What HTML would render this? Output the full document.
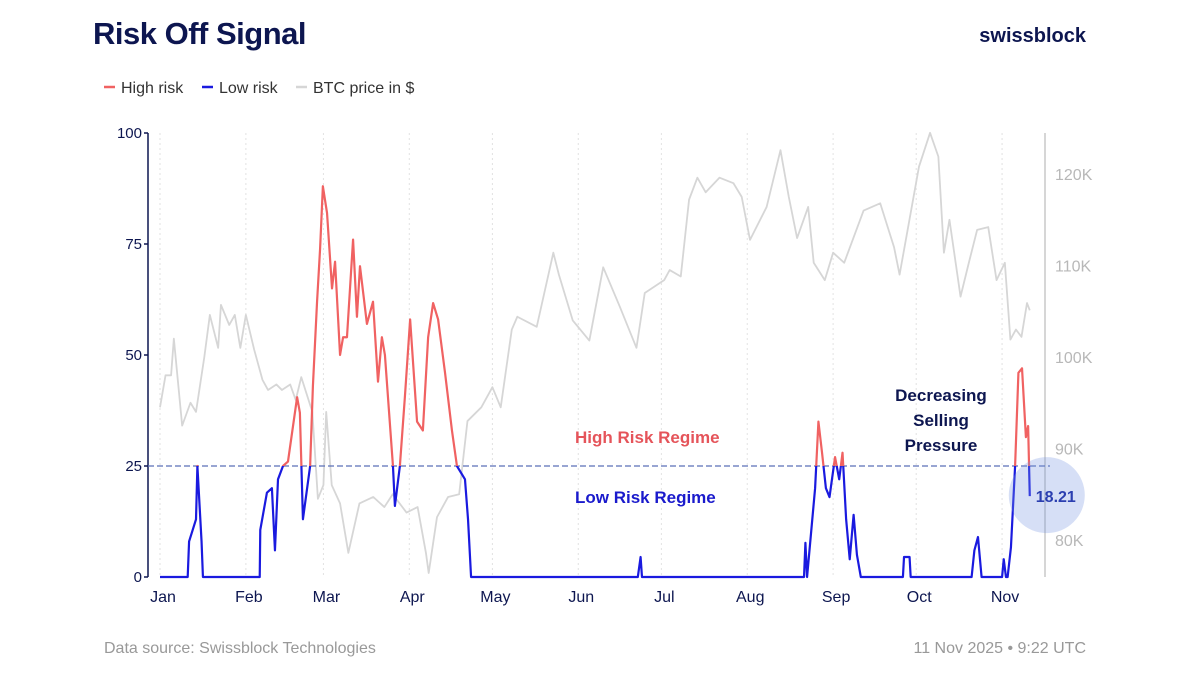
<!DOCTYPE html>
<html><head><meta charset="utf-8"><style>
body{margin:0;background:#fff;width:1200px;height:675px;overflow:hidden;font-family:"Liberation Sans",sans-serif}
</style></head><body>
<svg id="c" width="1200" height="675" xmlns="http://www.w3.org/2000/svg">
<text x="93" y="44" font-size="31" font-weight="bold" fill="#0d1650" letter-spacing="-0.5">Risk Off Signal</text>
<text x="1086" y="42" font-size="20" font-weight="bold" fill="#0d1650" text-anchor="end">swissblock</text>
<g font-size="16" fill="#333">
<g><line x1="104" y1="87" x2="115" y2="87" stroke="#f06262" stroke-width="2.5"/><text x="121" y="93">High risk</text></g>
<g><line x1="202" y1="87" x2="213" y2="87" stroke="#1a1adf" stroke-width="2.5"/><text x="219" y="93">Low risk</text></g>
<g><line x1="296" y1="87" x2="307" y2="87" stroke="#d6d6d6" stroke-width="2.5"/><text x="313" y="93">BTC price in $</text></g>
</g>
<g id="grid"></g>
<g id="axes"></g>
<g id="series"></g>
<text x="575" y="443" font-size="17" font-weight="bold" fill="#e5545a">High Risk Regime</text>
<text x="575" y="503" font-size="17" font-weight="bold" fill="#1a1acc">Low Risk Regime</text>
<g font-size="17" font-weight="bold" fill="#0d1650" text-anchor="middle">
<text x="941" y="401">Decreasing</text><text x="941" y="426">Selling</text><text x="941" y="451">Pressure</text></g>
<text x="104" y="653" font-size="16" fill="#999">Data source: Swissblock Technologies</text>
<text x="1086" y="653" font-size="16" fill="#999" text-anchor="end">11 Nov 2025 • 9:22 UTC</text>
</svg>
<script>
const months=["Jan","Feb","Mar","Apr","May","Jun","Jul","Aug","Sep","Oct","Nov"];
const monthDays=[0,31,59,90,120,151,181,212,243,273,304];
const leftTicks=[0,25,50,75,100];
const rightTicks=[80,90,100,110,120];
const rightTickLabels=["80K","90K","100K","110K","120K"];
const priceDays=[0,2,4,5,8,11,13,16,18,21,22,25,27,29,31,34,37,39,42,44,47,49,51,55,57,59,60,62,65,68,72,77,81,84,89,93,96,97,100,104,108,111,116,120,123,127,129,136,142,144,149,155,160,166,172,175,182,184,188,191,194,197,202,207,210,213,219,224,227,230,234,236,240,243,247,254,260,265,267,274,278,281,283,285,289,292,295,299,302,305,307,309,311,313,314];
const priceVals=[94.5,98,98,102,92.5,95,94,100,104.6,101,105.7,103.5,104.6,101,104.6,100.8,97.5,96.4,97,96.4,97,95.3,97.8,94,84.5,86,94,86,84,78.6,84,84.7,83.6,85,83,83.6,78.6,76.4,82.5,84.7,85,93,94.5,96.7,94.5,103,104.4,103.3,111.4,109,104,101.8,109.8,105.5,101,107,108.4,109.5,108.8,117.2,119.6,118,119.6,119,117.5,112.8,116.4,122.6,117.5,113,116.4,110.3,108.4,111.4,110.3,116,116.8,112,109,120.8,124.5,121.9,111.4,115,106.6,110.3,113.9,114.2,108.4,110.3,101.9,103,102.2,105.9,105.1];
const riskDays=[0,10,10.5,12,13,13.5,15,15.5,36,36.2,38.6,40.4,41.5,42.6,44.4,46.2,49.5,50.5,51.6,54.2,55.2,56.7,57.8,58.8,60.3,62.1,63.2,65,66.1,67.5,69.7,71.1,72.2,74.7,76.9,78.7,80.1,81.2,84.1,84.8,86.6,88.4,90.3,92.8,94.9,96.8,98.6,100.4,102.9,105.4,107.2,110.1,111.2,112.3,172.5,173.5,174,232.5,233,233.6,236.5,237.7,239,240.4,241.7,243.7,245.2,246.4,247.7,249,250.4,251.6,253,268.2,268.6,269.7,270.6,271,293,294,295.3,296.6,304,304.6,305.4,306,307.2,308.7,309.9,311.2,312.6,313.4,314];
const riskVals=[0,0,8,11,13,25,8,0,0,10.6,19,20,6,22,25,26,40.5,37,13,25,43,62,74,88,82,65,71,50,54,54,76,58.6,70,57,62,44,54,50,25,16,25,40.5,58,35,33,54,61.7,58,46,33,25,22,13,0,0,4.5,0,0,7.7,0,20,35,28,20,18,27,22,28,13,4,14,5,0,0,4.5,4.5,4.5,0,0,6,9,0,0,4,0,0,6.7,25,46,47,31.5,34,18.21];
const threshold=25;
const lastValue=18.21;

const NS="http://www.w3.org/2000/svg";
const X=d=>160+d*2.77;
const YL=v=>577-v*4.44;
const YR=p=>174+(120-p)*9.15;
function mk(tag,attrs,parent){const e=document.createElementNS(NS,tag);for(const k in attrs)e.setAttribute(k,attrs[k]);parent.appendChild(e);return e;}
const svg=document.getElementById('c');
const grid=document.getElementById('grid'),axes=document.getElementById('axes'),series=document.getElementById('series');
months.forEach((m,i)=>{
  const x=X(monthDays[i]);
  const l=mk('line',{x1:x,y1:133,x2:x,y2:577,stroke:'#e2e2e2','stroke-dasharray':'2,3'},grid);
  
  
  const t=mk('text',{x:x+3,y:602,'font-size':16,fill:'#0d1650','text-anchor':'middle'},axes);
  t.textContent=m;
  
  
});
const la=mk('line',{x1:148,y1:133,x2:148,y2:577,stroke:'#0d1650','stroke-width':1.5},axes);


leftTicks.forEach(v=>{
  mk('line',{x1:144,y1:YL(v),x2:148,y2:YL(v),stroke:'#0d1650','stroke-width':1.5},axes);
  const t=mk('text',{x:142,y:YL(v)+5,'font-size':15,fill:'#0d1650','text-anchor':'end'},axes);
  t.textContent=v;
  
  
});
const ra=mk('line',{x1:1045,y1:133,x2:1045,y2:577,stroke:'#c8c8c8','stroke-width':1.5},axes);


rightTicks.forEach((p,i)=>{
  const t=mk('text',{x:1055,y:YR(p)+6,'font-size':16,fill:'#b8b8b8'},axes);
  t.textContent=rightTickLabels[i];
  
  
});
const defs=mk('defs',{},svg);
const cu=mk('clipPath',{id:'above'},defs);mk('rect',{x:0,y:0,width:1200,height:YL(threshold)},cu);
const cb=mk('clipPath',{id:'below'},defs);mk('rect',{x:0,y:YL(threshold),width:1200,height:700},cb);
const pp=priceDays.map((d,i)=>X(d)+','+YR(priceVals[i])).join(' ');
const pl=mk('polyline',{points:pp,fill:'none',stroke:'#d6d6d6','stroke-width':1.8,'stroke-linejoin':'round'},series);


const th=mk('line',{x1:148,y1:YL(threshold),x2:1050,y2:YL(threshold),stroke:'#5a6fb8','stroke-width':1.2,'stroke-dasharray':'6,3'},series);


const rp=riskDays.map((d,i)=>X(d)+','+YL(riskVals[i])).join(' ');
const hi=mk('polyline',{points:rp,fill:'none',stroke:'#f06262','stroke-width':2.2,'clip-path':'url(#above)','stroke-linejoin':'round'},series);


const lo=mk('polyline',{points:rp,fill:'none',stroke:'#1a1adf','stroke-width':2.2,'clip-path':'url(#below)','stroke-linejoin':'round'},series);


const lastX=X(riskDays[riskDays.length-1]);
const circ=mk('circle',{cx:lastX+17,cy:YL(lastValue)-1,r:38,fill:'rgba(120,150,225,0.3)'},series);


const lv=mk('text',{x:lastX+6,y:YL(lastValue)+6,'font-size':16,'font-weight':'bold',fill:'#2b3fb0'},series);
lv.textContent=lastValue.toFixed(2);


</script>
</body></html>
